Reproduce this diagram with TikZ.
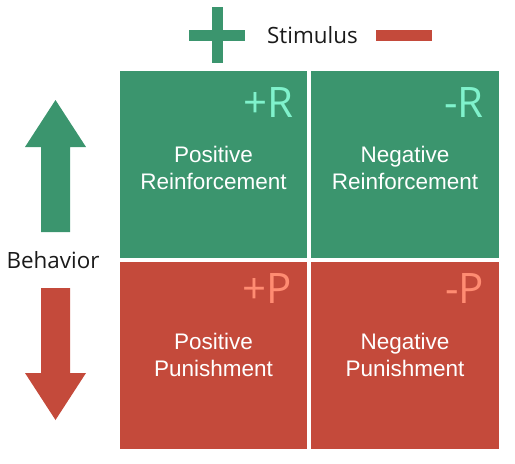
\documentclass[tikz,border=0pt]{standalone}
\usepackage{fontspec}
\setmainfont{Liberation Sans}
\newfontfamily\opensans{Open Sans}
\definecolor{boxgreen}{HTML}{3B956E}
\definecolor{boxred}{HTML}{C44A3B}
\definecolor{mint}{HTML}{80F2CC}
\definecolor{salmon}{HTML}{FF8C72}
\definecolor{ink}{HTML}{1A1A1A}
\tikzset{
  quad/.style={draw=none, inner sep=0pt, minimum width=187pt, minimum height=187pt, anchor=north west},
  greenq/.style={quad, fill=boxgreen},
  redq/.style={quad, fill=boxred},
  body/.style={text=white, align=center, inner sep=0pt, font=\fontsize{22.5}{27}\selectfont},
  tag/.style={inner sep=0pt, anchor=base east, font=\opensans\fontsize{42}{42}\selectfont},
  caption/.style={inner sep=0pt, text=ink, font=\opensans\fontsize{22.4}{26}\selectfont},
}
\begin{document}
\begin{tikzpicture}[x=1pt,y=-1pt]
\useasboundingbox (0,0) rectangle (515,464);
% quadrants
\node[greenq] (pr) at (120,71) {};
\node[greenq, minimum width=188pt] (nr) at (311,71) {};
\node[redq] (pp) at (120,262) {};
\node[redq, minimum width=188pt] (np) at (311,262) {};
% body texts
\node[body] (prt) at (213.5,168) {Positive\\Reinforcement};
\node[body] (nrt) at (405,168) {Negative\\Reinforcement};
\node[body] (ppt) at (213.5,355) {Positive\\Punishment};
\node[body] (npt) at (405,355) {Negative\\Punishment};
% tags
\node[tag, text=mint] (tpr) at (294,117) {+R};
\node[tag, text=mint] (tnr) at (484,117) {-R};
\node[tag, text=salmon] (tpp) at (292,303) {+P};
\node[tag, text=salmon] (tnp) at (484,303) {-P};
% stimulus header
\fill[boxgreen] (189,29.5) rectangle (245,40.5);
\fill[boxgreen] (211.5,7) rectangle (222.5,63);
\node[caption, anchor=west] (stim) at (267,35) {Stimulus};
\fill[boxred] (376,29.5) rectangle (432,40.5);
% behavior arrows
\fill[boxgreen] (55.5,100) -- (86,147) -- (70,147) -- (70,232) -- (41,232) -- (41,147) -- (25,147) -- cycle;
\node[caption] (beh) at (53,260) {Behavior};
\fill[boxred] (55.5,420) -- (86,373) -- (70,373) -- (70,288) -- (41,288) -- (41,373) -- (25,373) -- cycle;
\end{tikzpicture}
\end{document}
